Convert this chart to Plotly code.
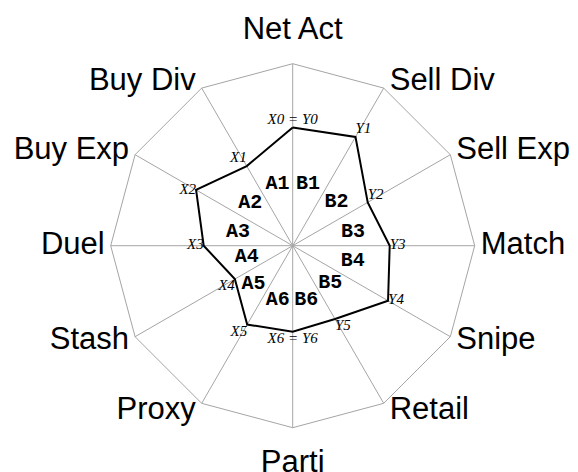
import math
import plotly.graph_objects as go

axes = ["Net Act", "Sell Div", "Sell Exp", "Match", "Snipe", "Retail",
        "Parti", "Proxy", "Stash", "Duel", "Buy Exp", "Buy Div"]
values = [0.65, 0.69, 0.476, 0.533, 0.605, 0.465,
          0.473, 0.50, 0.367, 0.489, 0.613, 0.505]
point_labels = ["X0 = Y0", "Y1", "Y2", "Y3", "Y4", "Y5",
                "X6 = Y6", "X5", "X4", "X3", "X2", "X1"]
point_label_pos = ["top center", "top right", "top right", "middle right",
                   "middle right", "bottom right", "bottom center", "bottom left",
                   "bottom left", "middle left", "middle left", "top left"]

sector_labels = ["A1", "B1", "A2", "B2", "A3", "B3",
                 "A4", "B4", "A5", "B5", "A6", "B6"]
sector_theta = [346.3, 14.0, 315.2, 45.0, 284.4, 77.0,
                256.0, 103.9, 226.0, 134.5, 195.4, 166.2]
sector_r = [0.35, 0.35, 0.33, 0.34, 0.31, 0.34,
            0.26, 0.34, 0.30, 0.29, 0.31, 0.31]

grid_col = "rgb(165,165,165)"
R_PX = 182.0      # polar radius in pixels (r = 1)
RMAX2 = 1.25      # radial extent of overlay subplot
FS = 31           # axis label font size

# axis-name label placement (computed from each axis angle)
lab_r, lab_t, lab_pos = [], [], []
for i, name in enumerate(axes):
    a = math.radians(90 - 360 / len(axes) * i)
    c, s = math.cos(a), math.sin(a)
    if abs(c) < 0.1:
        if s > 0:
            dx, dy, pos = 0.0, 16.5, "top center"
        else:
            dx, dy, pos = 0.0, -21.5, "bottom center"
    else:
        sg = 1 if c > 0 else -1
        dx, dy = 6.0 * sg, 8.0 * s - 1.0
        pos = "middle right" if c > 0 else "middle left"
    x = R_PX * c + dx
    y = R_PX * s + dy
    lab_r.append(math.hypot(x, y) / R_PX)
    lab_t.append((90 - math.degrees(math.atan2(y, x))) % 360)
    lab_pos.append(pos)

fig = go.Figure()

fig.add_trace(go.Scatterpolar(
    r=values + values[:1], theta=axes + axes[:1], mode="lines",
    line=dict(color="black", width=2), subplot="polar",
    showlegend=False, hoverinfo="skip"))

fig.add_trace(go.Scatterpolar(
    r=values, theta=axes, mode="text", text=point_labels,
    textposition=point_label_pos,
    textfont=dict(family="Liberation Serif", size=15, color="black", style="italic"),
    subplot="polar", showlegend=False, hoverinfo="skip"))

fig.add_trace(go.Scatterpolar(
    r=sector_r, theta=sector_theta, mode="text", text=sector_labels,
    textposition="middle center",
    textfont=dict(family="Liberation Mono", size=20, color="black", weight="bold"),
    subplot="polar2", showlegend=False, hoverinfo="skip"))

fig.add_trace(go.Scatterpolar(
    r=lab_r, theta=lab_t, mode="text", text=axes, textposition=lab_pos,
    textfont=dict(family="Liberation Sans", size=FS, color="black"),
    cliponaxis=False, subplot="polar2", showlegend=False, hoverinfo="skip"))

# page body has an 8px margin; centre the chart accordingly
cx, cy = 284.7, 237.7
W, H = 578, 472


def domain(rad):
    return dict(x=[(cx - rad) / W, (cx + rad) / W],
                y=[1 - (cy + rad) / H, 1 - (cy - rad) / H])


fig.update_layout(
    width=W, height=H,
    margin=dict(l=0, r=0, t=0, b=0),
    paper_bgcolor="white",
    polar=dict(
        domain=domain(R_PX), bgcolor="white", gridshape="linear",
        angularaxis=dict(type="category", categoryarray=axes, rotation=90,
                         direction="clockwise", showgrid=True, gridcolor=grid_col,
                         gridwidth=1, showline=True, linecolor=grid_col, linewidth=1,
                         ticks="", showticklabels=False),
        radialaxis=dict(range=[0, 1], visible=False),
    ),
    polar2=dict(
        domain=domain(R_PX * RMAX2), bgcolor="rgba(0,0,0,0)",
        angularaxis=dict(type="linear", rotation=90, direction="clockwise", visible=False),
        radialaxis=dict(range=[0, RMAX2], visible=False),
    ),
)

fig.write_html("out.html")
